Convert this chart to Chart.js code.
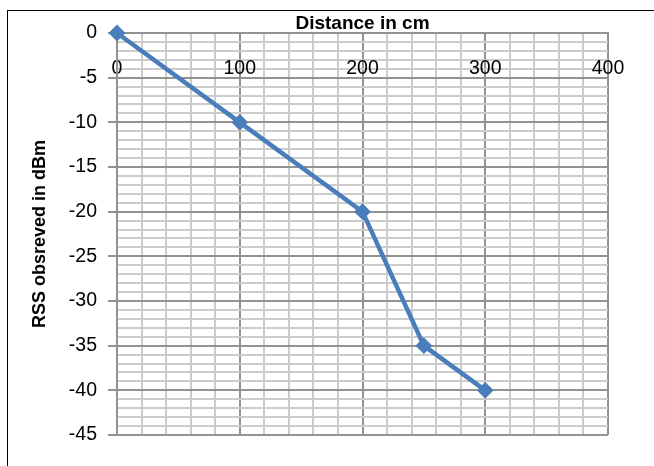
<!DOCTYPE html>
<html lang="en">
<head>
<meta charset="UTF-8" />
<title>RSS vs Distance</title>
<script src="https://cdn.jsdelivr.net/npm/chart.js"></script>
<style>
  body { margin: 0; background: #fff; }
  #wrap { position: relative; width: 654px; height: 466px; overflow: hidden; }
  #frame { position: absolute; left: 7px; top: 10px; width: 700px; height: 500px; border: 1px solid #000; }
  #rssChart { position: absolute; left: 0; top: 0; }
</style>
</head>
<body>

<div id="wrap">
  <div id="frame"></div>
  <canvas id="rssChart" width="654" height="466"></canvas>
</div>

<script>
// data
const distanceCm = [0, 100, 200, 250, 300];
const rssDbm = [0, -10, -20, -35, -40];

const xTitle = "Distance in cm";
const yTitle = "RSS obsreved in dBm";

const majorGrid = "#929292";
const minorGrid = "#cccccc";
const lineBlue = "#4a7ebb";
const family = "'Liberation Sans', Arial, sans-serif";
const tickFont = { family: family, size: 19.5 };

const points = distanceCm.map((d, i) => ({ x: d, y: rssDbm[i] }));

const ctx = document.getElementById("rssChart").getContext("2d");
const rssChart = new Chart(ctx, {
  type: "line",
  data: {
    datasets: [{
      label: "RSS",
      data: points,
      borderColor: lineBlue,
      backgroundColor: lineBlue,
      borderWidth: 4.5,
      pointStyle: "rectRot",
      pointRadius: 7,
      pointBorderWidth: 2,
      pointBackgroundColor: lineBlue,
      pointBorderColor: lineBlue,
      fill: false,
      tension: 0,
      clip: false,
    }],
  },
  options: {
    responsive: false,
    animation: false,
    layout: { padding: { left: 0, top: 0, right: 46, bottom: 31 } },
    plugins: {
      legend: { display: false },
      tooltip: { enabled: false },
    },
    scales: {
      x: {
        type: "linear",
        position: { y: 0 },
        min: 0,
        max: 400,
        ticks: {
          stepSize: 20,
          autoSkip: false,
          maxRotation: 0,
          padding: 24,
          color: "#000",
          font: tickFont,
          callback: (v) => (v % 100 === 0 ? String(v) : ""),
        },
        grid: {
          drawTicks: false,
          lineWidth: 2,
          color: (c) => (c.tick && c.tick.value % 100 === 0 ? majorGrid : minorGrid),
        },
        border: { display: true, color: majorGrid, width: 2 },
      },
      xTop: {
        type: "linear",
        position: "top",
        min: 0,
        max: 400,
        ticks: { display: false },
        grid: { display: false, drawTicks: false },
        border: { display: false },
        title: {
          display: true,
          text: xTitle,
          color: "#000",
          font: { family: family, size: 19, weight: "bold" },
          padding: { top: 12, bottom: 0 },
        },
        afterFit: (scale) => { scale.height = 33; },
      },
      y: {
        type: "linear",
        position: "left",
        min: -45,
        max: 0,
        ticks: {
          stepSize: 1,
          autoSkip: false,
          padding: 11,
          color: "#000",
          font: tickFont,
          callback: (v) => (v % 5 === 0 ? String(v) : ""),
        },
        grid: {
          lineWidth: 2,
          tickLength: 9,
          color: (c) => (c.tick && c.tick.value % 5 === 0 ? majorGrid : minorGrid),
          tickColor: (c) => (c.tick && c.tick.value % 5 === 0 ? majorGrid : "rgba(0,0,0,0)"),
        },
        border: { display: true, color: majorGrid, width: 2 },
        title: {
          display: true,
          text: yTitle,
          color: "#000",
          font: { family: family, size: 18, weight: "bold" },
          padding: { top: 29, bottom: 0 },
        },
        afterFit: (scale) => { scale.width = 117; },
      },
    },
  },
});
</script>

</body>
</html>
